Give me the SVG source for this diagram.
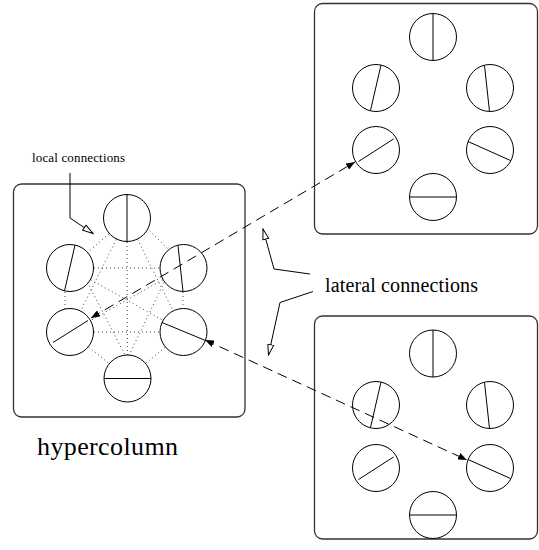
<svg xmlns="http://www.w3.org/2000/svg" width="539" height="550" viewBox="0 0 539 550">
<style>
.box{fill:none;stroke:#333;stroke-width:1.3}
.cell{fill:#fff;stroke:#000;stroke-width:1}
.ori{stroke:#000;stroke-width:1}
.dot{stroke:#444;stroke-width:1;stroke-dasharray:1,3;fill:none}
.dash{stroke:#000;stroke-width:1;stroke-dasharray:10,6;fill:none;marker-start:url(#fa);marker-end:url(#fa)}
.ptr{stroke:#000;stroke-width:1;fill:none;marker-end:url(#oa)}
.lbl{font-family:"Liberation Serif","Times New Roman",serif;fill:#000}
</style>
<defs>
<marker id="fa" viewBox="0 0 9 7" refX="9" refY="3.5" markerUnits="userSpaceOnUse" markerWidth="9" markerHeight="7" orient="auto-start-reverse">
<path d="M0,0 L9,3.5 L0,7 z" fill="#000"/>
</marker>
<marker id="oa" viewBox="0 0 12 8" refX="11" refY="4" markerUnits="userSpaceOnUse" markerWidth="12" markerHeight="8" orient="auto">
<path d="M0.5,1 L11,4 L0.5,7 z" fill="#fff" stroke="#000" stroke-width="1"/>
</marker>
</defs>
<rect width="539" height="550" fill="#fff"/>

<g id="box-hypercolumn"><rect class="box" x="13.5" y="184" width="231.5" height="233" rx="8"/></g>
<g id="box-upper"><rect class="box" x="314.5" y="3.5" width="223" height="230.5" rx="8"/></g>
<g id="box-lower"><rect class="box" x="314.5" y="316" width="223" height="223" rx="8"/></g>

<g id="local-connections">
<line class="dot" x1="127" y1="218" x2="70" y2="268"/>
<line class="dot" x1="127" y1="208" x2="183.5" y2="264.5"/>
<line class="dot" x1="127" y1="218" x2="127.5" y2="378.5"/>
<line class="dot" x1="127" y1="218" x2="70" y2="332"/>
<line class="dot" x1="127" y1="218" x2="183.5" y2="332"/>
<line class="dot" x1="70" y1="268" x2="183.5" y2="268"/>
<line class="dot" x1="65" y1="268" x2="65" y2="332"/>
<line class="dot" x1="183" y1="268" x2="183" y2="332"/>
<line class="dot" x1="70" y1="268" x2="183.5" y2="332"/>
<line class="dot" x1="183.5" y1="268" x2="70" y2="332"/>
<line class="dot" x1="80" y1="268" x2="137" y2="378"/>
<line class="dot" x1="171" y1="268" x2="118" y2="378"/>
<line class="dot" x1="70" y1="332" x2="183.5" y2="332"/>
<line class="dot" x1="70" y1="332" x2="127.5" y2="378.5"/>
<line class="dot" x1="183.5" y1="332" x2="127.5" y2="378.5"/>
</g>

<g id="h-top"><circle class="cell" cx="127" cy="218" r="23.5"/><line class="ori" x1="127" y1="194.5" x2="127" y2="241.5"/></g>
<g id="h-upper-left"><circle class="cell" cx="70" cy="268" r="23.5"/><line class="ori" x1="75" y1="245" x2="64.5" y2="291"/></g>
<g id="h-upper-right"><circle class="cell" cx="183.5" cy="268" r="23.5"/><line class="ori" x1="178" y1="245.5" x2="183" y2="291.5"/></g>
<g id="h-lower-left"><circle class="cell" cx="70" cy="332" r="23.5"/><line class="ori" x1="88" y1="320.5" x2="53" y2="342.5"/></g>
<g id="h-lower-right"><circle class="cell" cx="183.5" cy="332" r="23.5"/><line class="ori" x1="162" y1="322.5" x2="205.5" y2="340.5"/></g>
<g id="h-bottom"><circle class="cell" cx="127.5" cy="378.5" r="23.5"/><line class="ori" x1="104" y1="378.5" x2="151" y2="378.5"/></g>

<g id="u-top"><circle class="cell" cx="433" cy="37" r="23.5"/><line class="ori" x1="433" y1="13.5" x2="433" y2="60.5"/></g>
<g id="u-upper-left"><circle class="cell" cx="376" cy="88" r="23.5"/><line class="ori" x1="381" y1="65" x2="370.5" y2="110.5"/></g>
<g id="u-upper-right"><circle class="cell" cx="490" cy="88" r="23.5"/><line class="ori" x1="484.5" y1="65.5" x2="489.5" y2="111.5"/></g>
<g id="u-lower-left"><circle class="cell" cx="376" cy="150" r="23.5"/><line class="ori" x1="393.5" y1="139" x2="358.5" y2="161.5"/></g>
<g id="u-lower-right"><circle class="cell" cx="490" cy="150" r="23.5"/><line class="ori" x1="468" y1="141.5" x2="510.5" y2="160.5"/></g>
<g id="u-bottom"><circle class="cell" cx="433" cy="197" r="23.5"/><line class="ori" x1="409.5" y1="197" x2="456.5" y2="197"/></g>

<g id="l-top"><circle class="cell" cx="433" cy="353.5" r="23.5"/><line class="ori" x1="433" y1="330" x2="433" y2="377"/></g>
<g id="l-upper-left"><circle class="cell" cx="376" cy="405" r="23.5"/><line class="ori" x1="381" y1="382" x2="370.5" y2="427.5"/></g>
<g id="l-upper-right"><circle class="cell" cx="490" cy="405" r="23.5"/><line class="ori" x1="484.5" y1="382.5" x2="489.5" y2="428.5"/></g>
<g id="l-lower-left"><circle class="cell" cx="376" cy="468" r="23.5"/><line class="ori" x1="393.5" y1="457" x2="358.5" y2="479.5"/></g>
<g id="l-lower-right"><circle class="cell" cx="490" cy="468" r="23.5"/><line class="ori" x1="468" y1="459.5" x2="510.5" y2="478.5"/></g>
<g id="l-bottom"><circle class="cell" cx="433" cy="515" r="23.5"/><line class="ori" x1="409.5" y1="515" x2="456.5" y2="515"/></g>

<g id="connectors">
<line class="dash" x1="91" y1="318" x2="355" y2="162"/>
<line class="dash" x1="205" y1="340" x2="467" y2="460"/>
<polyline class="ptr" points="70,173 70,218 93,233.5"/>
<polyline class="ptr" points="310,274 274,269 263,229"/>
<polyline class="ptr" points="313,291.5 280,302.5 268.5,355"/>
</g>

<g id="labels">
<text class="lbl" x="32" y="162" font-size="13" textLength="93">local connections</text>
<text class="lbl" x="325" y="292" font-size="20" textLength="153">lateral connections</text>
<text class="lbl" x="37" y="455" font-size="26" textLength="141">hypercolumn</text>
</g>
</svg>
